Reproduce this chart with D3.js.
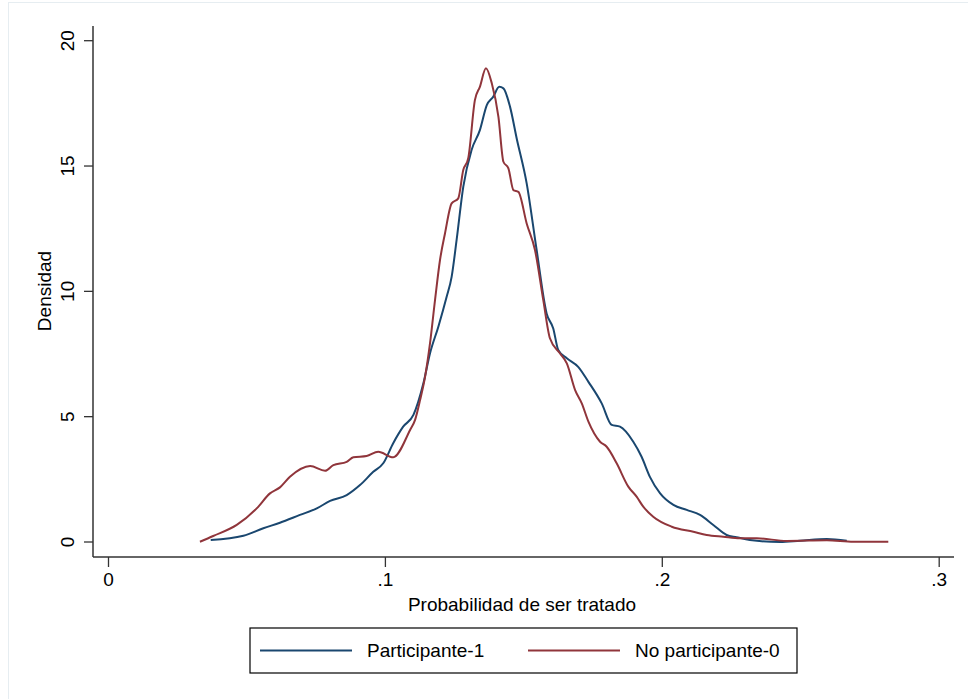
<!DOCTYPE html>
<html>
<head>
<meta charset="utf-8">
<script src="https://cdn.jsdelivr.net/npm/d3@7"></script>
<style>
  body { margin: 0; background: #fff; }
  text { font-family: "Liberation Sans", Arial, sans-serif; fill: #000; }
</style>
</head>
<body>
<div id="chart"></div>
<script>
// density estimates
var partX = [.0371, .0489, .0561, .0621, .0693, .0754, .0802, .0862, .0910, .0958, .0994, .1030, .1066, .1103,
  .1139, .1163, .1193, .1223, .1241, .1259, .1283, .1313, .1343, .1368, .1391, .1413, .1428, .1452, .1476,
  .1512, .1548, .1584, .1608, .1626, .1657, .1698, .1735, .1783, .1819, .1849, .1897, .1927, .1957, .1994,
  .2042, .2090, .2138, .2186, .2234, .2270, .2318, .2427, .2499, .2596, .2668];
var partY = [0.08, 0.25, 0.55, 0.77, 1.08, 1.34, 1.64, 1.87, 2.27, 2.80, 3.14, 3.94, 4.60, 5.07,
  6.33, 7.53, 8.59, 9.78, 10.58, 12.05, 14.17, 15.64, 16.43, 17.43, 17.76, 18.16, 18.10, 17.36, 16.10,
  14.31, 11.65, 9.12, 8.52, 7.66, 7.33, 6.99, 6.39, 5.53, 4.67, 4.60, 4.00, 3.40, 2.60, 1.94,
  1.48, 1.28, 1.08, 0.68, 0.28, 0.19, 0.08, 0.00, 0.05, 0.12, 0.05];

var noPartX = [.0332, .0380, .0465, .0537, .0585, .0621, .0657, .0730, .0784, .0814, .0862, .0886, .0934, .0976,
  .1030, .1091, .1109, .1127, .1145, .1163, .1181, .1199, .1217, .1241, .1265, .1283, .1301, .1325, .1343,
  .1365, .1386, .1410, .1428, .1446, .1464, .1482, .1512, .1542, .1572, .1596, .1632, .1657, .1687, .1711,
  .1735, .1777, .1801, .1837, .1879, .1909, .1933, .1969, .2036, .2114, .2162, .2222, .2282, .2343, .2451,
  .2596, .2692, .2818];
var noPartY = [0.01, 0.24, 0.68, 1.34, 1.94, 2.18, 2.60, 3.03, 2.84, 3.07, 3.20, 3.38, 3.43, 3.60,
  3.38, 4.47, 4.87, 5.66, 6.59, 7.93, 9.65, 11.25, 12.31, 13.51, 13.71, 14.84, 15.31, 17.63, 18.16,
  18.90, 18.30, 16.96, 15.17, 14.91, 14.04, 13.97, 12.71, 11.65, 9.65, 8.13, 7.53, 7.13, 6.06, 5.53,
  4.80, 4.00, 3.80, 3.14, 2.21, 1.81, 1.41, 1.01, 0.61, 0.41, 0.28, 0.21, 0.15, 0.15, 0.04,
  0.07, 0.01, 0.01];

var xTicks = [0, 0.1, 0.2, 0.3];
var yTicks = [0, 5, 10, 15, 20];
var seriesNames = ["Participante-1", "No participante-0"];
var seriesColors = ["#1a476f", "#90353b"];

var width = 968, height = 699;
var fontSize = 19;

var svg = d3.select("#chart").append("svg")
  .attr("width", width)
  .attr("height", height);

// light outer frame
svg.append("rect")
  .attr("x", 8.5).attr("y", 2.5)
  .attr("width", 980).attr("height", 720)
  .attr("fill", "none")
  .attr("stroke", "#e6edf1");

var xScale = d3.scaleLinear().domain([0, 0.3]).range([108, 938.7]);
var yScale = d3.scaleLinear().domain([0, 20]).range([542, 40.7]);

var axisX = 93, axisY = 557;

// y axis (labels turned sideways like stata)
var gy = svg.append("g")
  .attr("transform", "translate(" + axisX + ",0)")
  .call(d3.axisLeft(yScale).tickValues(yTicks).tickSize(9).tickFormat(d3.format("d")));
gy.select(".domain").remove();
gy.selectAll(".tick").attr("transform", null);
gy.selectAll(".tick line")
  .attr("y1", yScale).attr("y2", yScale)
  .attr("stroke", "#333").attr("stroke-width", 1.3);
gy.selectAll(".tick text")
  .attr("font-size", fontSize)
  .attr("x", null).attr("dy", null)
  .attr("y", null)
  .attr("text-anchor", "middle")
  .attr("transform", function (d) { return "translate(-19," + yScale(d) + ") rotate(-90)"; });

svg.append("line")
  .attr("x1", axisX).attr("x2", axisX)
  .attr("y1", 26).attr("y2", axisY)
  .attr("stroke", "#333").attr("stroke-width", 1.5);

// x axis
var gx = svg.append("g")
  .attr("transform", "translate(0," + axisY + ")")
  .call(d3.axisBottom(xScale).tickValues(xTicks).tickSize(10).tickPadding(6)
    .tickFormat(function (d) { return d === 0 ? "0" : d3.format(".1f")(d).replace(/^0/, ""); }));
gx.select(".domain").remove();
gx.selectAll(".tick line").attr("stroke", "#333").attr("stroke-width", 1.3);
gx.selectAll(".tick text").attr("font-size", fontSize);

svg.append("line")
  .attr("x1", axisX).attr("x2", 954)
  .attr("y1", axisY).attr("y2", axisY)
  .attr("stroke", "#333").attr("stroke-width", 1.5);

// axis titles
svg.append("text")
  .attr("x", 522).attr("y", 611)
  .attr("text-anchor", "middle")
  .attr("font-size", fontSize)
  .text("Probabilidad de ser tratado");

svg.append("text")
  .attr("transform", "translate(51,291) rotate(-90)")
  .attr("text-anchor", "middle")
  .attr("font-size", fontSize)
  .text("Densidad");

// density lines
var line = d3.line()
  .x(function (d) { return xScale(d[0]); })
  .y(function (d) { return yScale(d[1]); })
  .curve(d3.curveMonotoneX);

var series = [d3.zip(partX, partY), d3.zip(noPartX, noPartY)];

svg.selectAll(".density")
  .data(series)
  .enter().append("path")
  .attr("class", "density")
  .attr("d", line)
  .attr("fill", "none")
  .attr("stroke", function (d, i) { return seriesColors[i]; })
  .attr("stroke-width", 2);

// legend
svg.append("rect")
  .attr("x", 250).attr("y", 628)
  .attr("width", 547).attr("height", 45)
  .attr("fill", "#fff")
  .attr("stroke", "#000").attr("stroke-width", 1.2);

var legendX = [260, 528];
seriesNames.forEach(function (name, i) {
  svg.append("line")
    .attr("x1", legendX[i]).attr("x2", legendX[i] + 92)
    .attr("y1", 650.5).attr("y2", 650.5)
    .attr("stroke", seriesColors[i]).attr("stroke-width", 2);
  svg.append("text")
    .attr("x", legendX[i] + 107).attr("y", 657)
    .attr("font-size", fontSize)
    .text(name);
});
</script>
</body>
</html>
